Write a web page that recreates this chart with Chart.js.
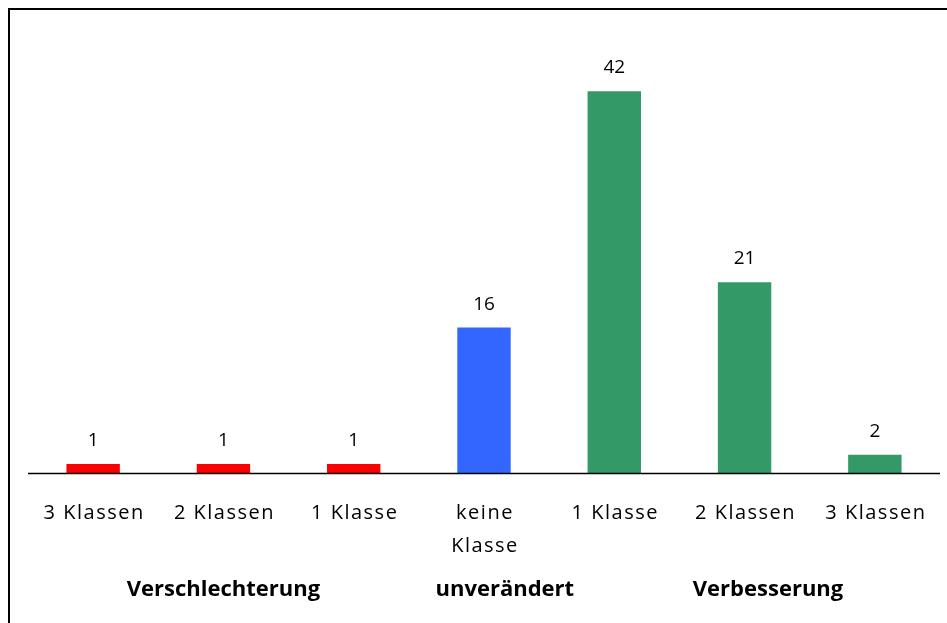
<!DOCTYPE html>
<html>
<head>
<meta charset="utf-8">
<script src="https://cdn.jsdelivr.net/npm/chart.js@4.4.1/dist/chart.umd.min.js"></script>
<style>
  html, body { margin: 0; padding: 0; background: #fff; overflow: hidden; }
  #wrap { width: 947px; height: 623px; }
</style>
</head>
<body>
<div id="wrap"><canvas id="barChart" width="947" height="623"></canvas></div>
<script>
// Klassenwechsel: Anzahl je Kategorie
const categories = [["3 Klassen"], ["2 Klassen"], ["1 Klasse"], ["keine", "Klasse"], ["1 Klasse"], ["2 Klassen"], ["3 Klassen"]];
const counts = [1, 1, 1, 16, 42, 21, 2];
const barColors = ["#ff0000", "#ff0000", "#ff0000", "#3366ff", "#339966", "#339966", "#339966"];
const groups = ["Verschlechterung", "unverändert", "Verbesserung"];
const groupAt = [1, 3.16, 5.18];

const FONT = "'Open Sans', 'Noto Sans', sans-serif";

const labelsPlugin = {
    id: 'labels',
    beforeDraw(chart) {
        const ctx = chart.ctx;
        ctx.save();
        // Rahmen (nur links und oben sichtbar)
        ctx.strokeStyle = '#000';
        ctx.lineWidth = 2;
        ctx.beginPath();
        ctx.moveTo(9, 623);
        ctx.lineTo(9, 9);
        ctx.lineTo(947, 9);
        ctx.stroke();
        ctx.restore();
    },
    afterDatasetsDraw(chart) {
        const ctx = chart.ctx;
        const x = chart.scales.x;
        const y = chart.scales.y;
        const area = chart.chartArea;
        ctx.save();

        // Grundlinie
        const y0 = y.getPixelForValue(0);
        ctx.strokeStyle = '#000';
        ctx.lineWidth = 1.5;
        ctx.beginPath();
        ctx.moveTo(area.left, y0 + 0.5);
        ctx.lineTo(area.right, y0 + 0.5);
        ctx.stroke();

        // Werte über den Balken
        ctx.fillStyle = '#000';
        ctx.textAlign = 'center';
        ctx.textBaseline = 'alphabetic';
        ctx.font = '19px ' + FONT;
        chart.getDatasetMeta(0).data.forEach((bar, i) => {
            ctx.fillText(String(counts[i]), bar.x, bar.y - 18);
        });

        // Kategorien
        ctx.font = '20px ' + FONT;
        ctx.letterSpacing = '1.5px';
        categories.forEach((lines, i) => {
            const px = x.getPixelForValue(i);
            lines.forEach((t, j) => {
                ctx.fillText(t, px + 1, y0 + 46 + j * 33);
            });
        });

        // Gruppen
        ctx.letterSpacing = '0px';
        ctx.font = 'bold 22px ' + FONT;
        groups.forEach((g, i) => {
            ctx.fillText(g, x.getPixelForValue(groupAt[i]), y0 + 123);
        });
        ctx.restore();
    }
};

new Chart(document.getElementById('barChart').getContext('2d'), {
    type: 'bar',
    data: {
        labels: categories.map(l => l.join(' ')),
        datasets: [{
            data: counts,
            backgroundColor: barColors,
            borderWidth: 0,
            categoryPercentage: 1,
            barPercentage: 0.41
        }]
    },
    options: {
        responsive: false,
        animation: false,
        layout: { padding: { left: 28, right: 7, top: 55, bottom: 150 } },
        plugins: {
            legend: { display: false },
            tooltip: { enabled: false }
        },
        scales: {
            x: { display: false },
            y: { display: false, min: 0, max: 46 }
        }
    },
    plugins: [labelsPlugin]
});
</script>
</body>
</html>
